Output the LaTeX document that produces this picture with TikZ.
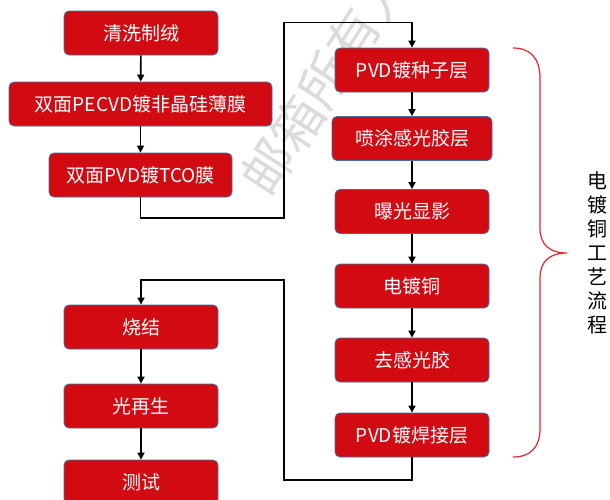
\documentclass[tikz,border=0pt]{standalone}
\usepackage{fontspec}
\setmainfont{Noto Sans CJK SC}
\usetikzlibrary{arrows.meta}
\definecolor{boxred}{HTML}{D20A12}
\definecolor{boxedge}{HTML}{41719C}
\definecolor{bracered}{HTML}{E3262E}
\tikzset{
  stepbox/.style={draw=boxedge, line width=0.8pt, fill=boxred, rounded corners=5pt,
    text=white, font=\fontsize{19}{19}\selectfont, minimum height=44pt, minimum width=154pt, inner sep=0pt},
  conn/.style={line width=1.6pt, -{Triangle[length=7pt,width=7pt]}},
  brace/.style={draw=bracered, line width=1.2pt},
  sidelabel/.style={font=\fontsize{20}{24}\selectfont, align=center, text=black},
  wmark/.style={text=black!14, font=\fontsize{52}{52}\selectfont, rotate=57}
}
\begin{document}
\begin{tikzpicture}[x=1pt,y=-1pt]
\useasboundingbox (0,0) rectangle (610,499);
% watermark
\node[wmark] (wm) at (325,80) {邮箱所有人};
% left column
\node[stepbox] (clean) at (141,33) {清洗制绒};
\node[stepbox, minimum width=263pt] (pecvd) at (140.5,104) {双面PECVD镀非晶硅薄膜};
\node[stepbox, minimum width=183pt] (tco) at (140.5,175) {双面PVD镀TCO膜};
% right column
\node[stepbox] (seed) at (412,70) {PVD镀种子层};
\node[stepbox, minimum width=160pt] (spray) at (412,138.5) {喷涂感光胶层};
\node[stepbox] (expose) at (412,211.5) {曝光显影};
\node[stepbox] (plate) at (412,286) {电镀铜};
\node[stepbox] (strip) at (412,360) {去感光胶};
\node[stepbox] (weld) at (412,435) {PVD镀焊接层};
% bottom-left column
\node[stepbox] (sinter) at (141,327) {烧结};
\node[stepbox] (regen) at (141,406) {光再生};
\node[stepbox] (test) at (141,482) {测试};
% connectors
\draw[conn] (clean) -- (pecvd);
\draw[conn] (pecvd) -- (tco);
\coordinate (c1) at (284,218);
\coordinate (c2) at (284,22.5);
\draw[conn] (tco.south) |- (c1) -- (c2) -| (seed.north);
\draw[conn] (seed) -- (spray);
\draw[conn] (spray) -- (expose);
\draw[conn] (expose) -- (plate);
\draw[conn] (plate) -- (strip);
\draw[conn] (strip) -- (weld);
\coordinate (c3) at (284,480);
\coordinate (c4) at (284,280);
\draw[conn] (weld.south) |- (c3) -- (c4) -| (sinter.north);
\draw[conn] (sinter) -- (regen);
\draw[conn] (regen) -- (test);
% brace
\draw[brace] (513,48) .. controls (530,48) and (540,58) .. (540,78) -- (540,228)
  .. controls (540,245) and (550,253) .. (567,253)
  .. controls (550,253) and (540,261) .. (540,278) -- (540,428)
  .. controls (540,448) and (530,457) .. (513,457);
\node[sidelabel] (lbl) at (597,253) {电\\镀\\铜\\工\\艺\\流\\程};
\end{tikzpicture}
\end{document}
